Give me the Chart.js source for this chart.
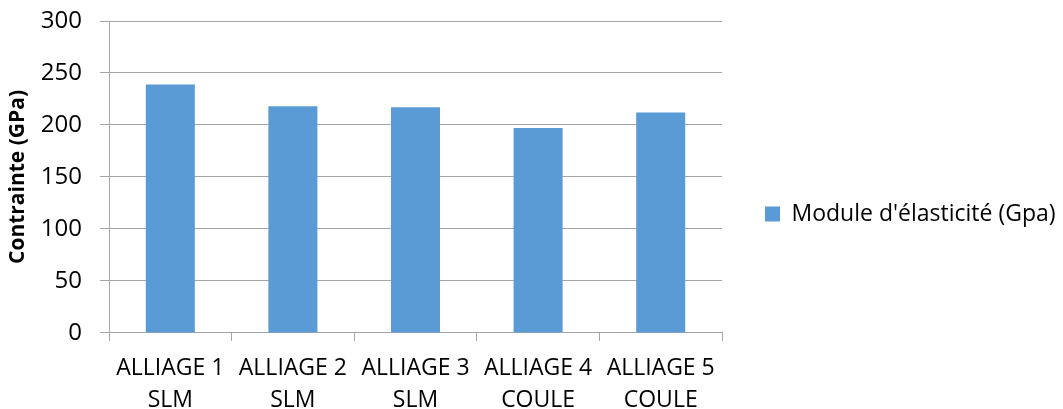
<!DOCTYPE html>
<html>
<head>
<meta charset="utf-8">
<script src="https://cdn.jsdelivr.net/npm/chart.js@4"></script>
<style>
  html, body { margin: 0; padding: 0; background: #fff; }
  #wrap { width: 1063px; height: 409px; }
</style>
</head>
<body>
<div id="wrap"><canvas id="modChart" width="1063" height="409"></canvas></div>
<script>
const categories = [
    ['ALLIAGE 1', 'SLM'],
    ['ALLIAGE 2', 'SLM'],
    ['ALLIAGE 3', 'SLM'],
    ['ALLIAGE 4', 'COULE'],
    ['ALLIAGE 5', 'COULE']
];
const moduleValues = [239, 218, 217, 197, 212];
const seriesLabel = "Module d'élasticité (Gpa)";
const yTitle = 'Contrainte (GPa)';

const gridColor = '#a6a6a6';
const font = 'Open Sans';

// keep the legend column a fixed width so the plot ends where the reference does
const legendWidth = {
    id: 'legendWidth',
    beforeInit(chart) {
        const fit = chart.legend.fit;
        chart.legend.fit = function () {
            fit.bind(chart.legend)();
            this.width = 341;
        };
    }
};

const ctx = document.getElementById('modChart').getContext('2d');
new Chart(ctx, {
    type: 'bar',
    data: {
        labels: categories,
        datasets: [
            {
                label: seriesLabel,
                data: moduleValues,
                backgroundColor: '#5b9bd5',
                barPercentage: 0.4,
                categoryPercentage: 1.0
            }
        ]
    },
    options: {
        responsive: false,
        animation: false,
        layout: { padding: { left: 3, top: 0, right: 0, bottom: -19 } },
        plugins: {
            tooltip: { enabled: false },
            legend: {
                position: 'right',
                labels: {
                    boxWidth: 15,
                    boxHeight: 15,
                    color: '#000',
                    padding: 43,
                    font: { family: font, size: 23 }
                }
            }
        },
        scales: {
            x: {
                grid: {
                    offset: true,
                    drawOnChartArea: false,
                    drawTicks: true,
                    tickLength: 8,
                    color: gridColor
                },
                border: { color: gridColor },
                ticks: {
                    color: '#000',
                    padding: 12,
                    maxRotation: 0,
                    font: { family: font, size: 23, lineHeight: 1.37 }
                }
            },
            y: {
                min: 0,
                max: 300,
                afterFit(scale) {
                    scale.width = 106;
                    scale.paddingTop = 21;
                },
                ticks: {
                    stepSize: 50,
                    color: '#000',
                    padding: 18,
                    font: { family: font, size: 24 }
                },
                grid: {
                    color: gridColor,
                    tickLength: 9
                },
                border: { color: gridColor },
                title: {
                    display: true,
                    text: yTitle,
                    color: '#000',
                    padding: { top: 2, bottom: 0 },
                    font: { family: font, size: 21, weight: 'bold' }
                }
            }
        }
    },
    plugins: [legendWidth]
});
</script>
</body>
</html>
